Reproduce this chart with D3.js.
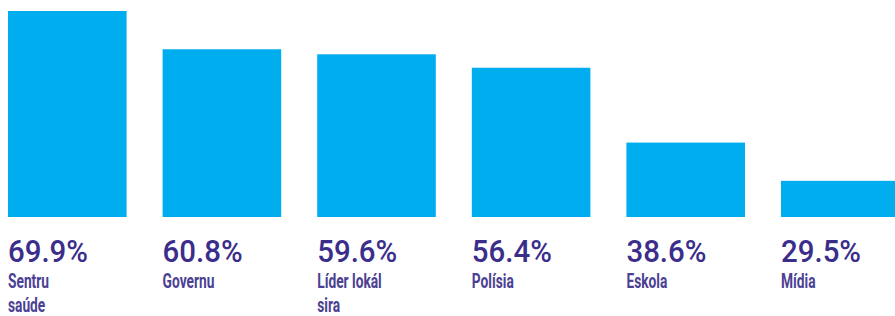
<!DOCTYPE html>
<html>
<head>
<meta charset="utf-8">
<script src="https://cdn.jsdelivr.net/npm/d3@7"></script>
<style>
  html, body { margin: 0; padding: 0; background: #ffffff; overflow: hidden; }
  svg { display: block; }
</style>
</head>
<body>
<svg id="chart" width="895" height="316"></svg>
<script>
const categories = ["Sentru saúde", "Governu", "Líder lokál sira", "Polísia", "Eskola", "Mídia"];
const labelLines = [["Sentru", "saúde"], ["Governu"], ["Líder lokál", "sira"], ["Polísia"], ["Eskola"], ["Mídia"]];
const values = [69.9, 60.8, 59.6, 56.4, 38.6, 29.5];
const valueLabels = ["69.9%", "60.8%", "59.6%", "56.4%", "38.6%", "29.5%"];

const svg = d3.select("#chart");

const x = d3.scaleBand()
  .domain(categories)
  .range([8, 899.6])
  .paddingInner(0.233)
  .paddingOuter(0);

const y = d3.scaleLinear()
  .domain([20.9, 69.9])
  .range([217, 11]);

svg.append("g").selectAll("rect")
  .data(categories)
  .join("rect")
  .attr("x", d => x(d))
  .attr("y", (d, i) => y(values[i]))
  .attr("width", x.bandwidth())
  .attr("height", (d, i) => y(y.domain()[0]) - y(values[i]))
  .attr("fill", "#00adef");

const font = "Roboto, 'DejaVu Sans', sans-serif";

// value labels (condensed look via horizontal scale)
const vg = svg.append("g").selectAll("g")
  .data(categories)
  .join("g")
  .attr("class", "val");
const vt = vg.append("text")
  .attr("font-family", font)
  .attr("font-size", 31)
  .attr("font-weight", 500)
  .attr("fill", "#3b2e8a")
  .text((d, i) => valueLabels[i]);
const kVal = 80 / vt.node().getComputedTextLength();
vg.attr("transform", d => `translate(${x(d)},262) scale(${kVal},1)`);

// category labels
const lg = svg.append("g").selectAll("g")
  .data(categories)
  .join("g")
  .attr("class", "lab");
const lt = lg.append("text")
  .attr("font-family", font)
  .attr("font-size", 19.5)
  .attr("font-weight", "bold")
  .attr("fill", "#4a4192");
lt.selectAll("tspan")
  .data((d, i) => labelLines[i])
  .join("tspan")
  .attr("x", 0)
  .attr("dy", (d, j) => j === 0 ? 0 : 24)
  .text(d => d);
const kLab = 41 / lt.select("tspan").node().getComputedTextLength();
lg.attr("transform", d => `translate(${x(d)},288) scale(${kLab},1)`);
</script>
</body>
</html>
